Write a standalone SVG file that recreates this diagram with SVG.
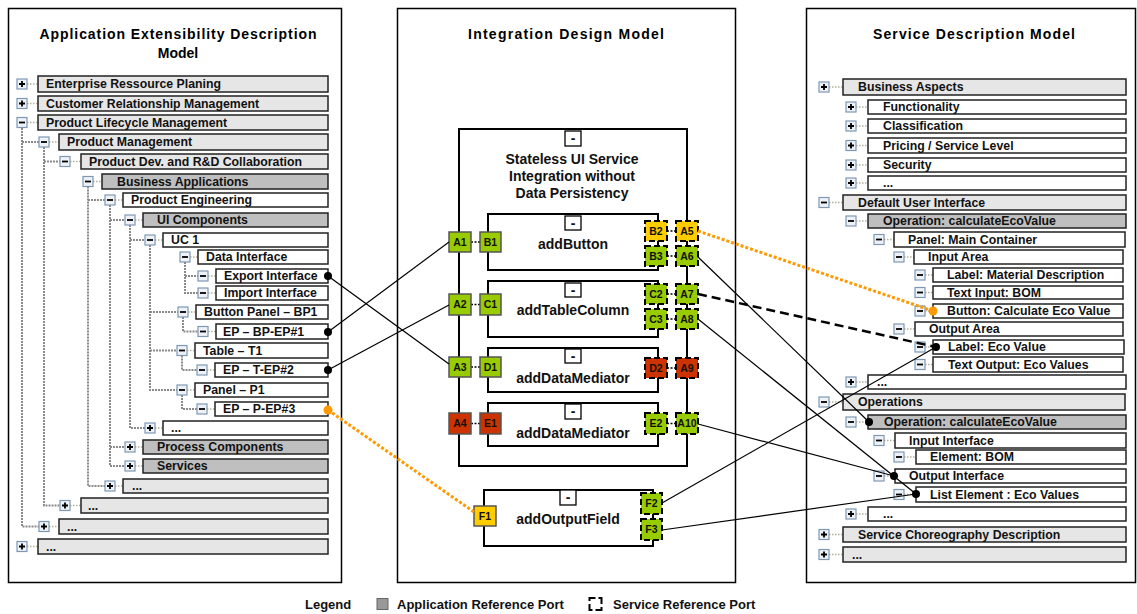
<svg xmlns="http://www.w3.org/2000/svg" width="1137" height="614" viewBox="0 0 1137 614">
<style>
.panel{fill:#fff;stroke:#000;stroke-width:1.5}
.title{font-family:"Liberation Sans",Arial,sans-serif;font-weight:bold;font-size:14px;text-anchor:middle;fill:#000}
.t{font-family:"Liberation Sans",Arial,sans-serif;font-weight:bold;font-size:12.3px;fill:#111}
.lg{fill:#e6e6e6;stroke:#222;stroke-width:1.5}
.dg{fill:#bfbfbf;stroke:#222;stroke-width:1.5}
.wh{fill:#fff;stroke:#222;stroke-width:1.5}
.ic{fill:#eef2f7;stroke:#7d98b3;stroke-width:1.2}
.sg{stroke:#000;stroke-width:1.8}
.vl{fill:none;stroke:#8a8a8a;stroke-width:2;stroke-dasharray:2 1}
.hl{fill:none;stroke:#b5b09a;stroke-width:1.3;stroke-dasharray:1.5 1.5}
.box{fill:#fff;stroke:#000;stroke-width:2}
.mb{fill:#fff;stroke:#000;stroke-width:1.3}
.mt{font-family:"Liberation Sans",Arial,sans-serif;font-weight:bold;font-size:14px;text-anchor:middle;fill:#111}
.pl{font-family:"Liberation Sans",Arial,sans-serif;font-weight:bold;font-size:10.5px;text-anchor:middle;fill:#111}
.g{fill:#99cc00}.o{fill:#ffcc00}.r{fill:#cc3300}
.ps{stroke:#555;stroke-width:1.5}
.pd{stroke:#000;stroke-width:2;stroke-dasharray:6 3}
.pc{stroke:#000;stroke-width:1.5;stroke-dasharray:2 1.5}
.ln{fill:none;stroke:#000;stroke-width:1.2}
.or{fill:none;stroke:#ff9900;stroke-width:3;stroke-dasharray:3 2}
.da{fill:none;stroke:#000;stroke-width:2.5;stroke-dasharray:9 5}
.dot{fill:#000}
.odot{fill:#ff9900}
.leg{font-family:"Liberation Sans",Arial,sans-serif;font-weight:bold;font-size:13px;fill:#111}
</style>

<!-- Panels -->
<g id="panel-left">
<rect class="panel" x="8.5" y="8.5" width="333" height="574"/>
<text class="title" x="178" y="39" textLength="277">Application Extensibility Description</text>
<text class="title" x="178" y="58">Model</text>
</g>
<g id="panel-middle">
<rect class="panel" x="397.5" y="8.5" width="338" height="574"/>
<text class="title" x="566" y="39" textLength="196">Integration Design Model</text>
</g>
<g id="panel-right">
<rect class="panel" x="806.5" y="8.5" width="329" height="574"/>
<text class="title" x="974" y="39" textLength="202">Service Description Model</text>
</g>

<!-- Left tree lines -->
<g id="left-tree-lines">
<path class="vl" d="M22 128V526.5H39M22 142H39"/>
<path class="vl" d="M44 147V505.5H60M44 161.5H60"/>
<path class="vl" d="M88 186.5V486H105M88 200H105"/>
<path class="vl" d="M110 205V466H125M110 220H125M110 447H125"/>
<path class="vl" d="M130 225V428H145M130 240H145"/>
<path class="vl" d="M150 245V390H177M150 312H178M150 350.5H177"/>
<path class="vl" d="M185 262V293H198M185 276H198"/>
<path class="vl" d="M183 317V331.5H198"/>
<path class="vl" d="M182 355.5V370H197"/>
<path class="vl" d="M182 395V409H197"/>
</g>

<!-- Left tree nodes -->
<g id="l-erp"><path class="hl" d="M27 84H38"/><rect class="lg" x="38" y="76" width="290" height="16"/><rect class="ic" x="17" y="79" width="10" height="10"/><path class="sg" d="M19 84H25M22 81V87"/><text class="t" x="46" y="88.3">Enterprise Ressource Planing</text></g>
<g id="l-crm"><path class="hl" d="M27 103.5H38"/><rect class="lg" x="38" y="96" width="290" height="15"/><rect class="ic" x="17" y="98.5" width="10" height="10"/><path class="sg" d="M19 103.5H25M22 100.5V106.5"/><text class="t" x="46" y="107.8">Customer Relationship Management</text></g>
<g id="l-plm"><path class="hl" d="M27 122.5H38"/><rect class="lg" x="38" y="115" width="290" height="15"/><rect class="ic" x="17" y="117.5" width="10" height="10"/><path class="sg" d="M19 122.5H25"/><text class="t" x="46" y="126.8">Product Lifecycle Management</text></g>
<g id="l-pm"><path class="hl" d="M49 142H59"/><rect class="lg" x="59" y="134" width="269" height="16"/><rect class="ic" x="39" y="137" width="10" height="10"/><path class="sg" d="M41 142H47"/><text class="t" x="67" y="146.3">Product Management</text></g>
<g id="l-pdev"><path class="hl" d="M70 161.5H81"/><rect class="lg" x="81" y="154" width="247" height="15"/><rect class="ic" x="60" y="156.5" width="10" height="10"/><path class="sg" d="M62 161.5H68"/><text class="t" x="89" y="165.8">Product Dev. and R&amp;D Collaboration</text></g>
<g id="l-ba"><path class="hl" d="M93 181.5H102"/><rect class="dg" x="102" y="174" width="226" height="15"/><rect class="ic" x="83" y="176.5" width="10" height="10"/><path class="sg" d="M85 181.5H91"/><text class="t" x="117" y="185.8">Business Applications</text></g>
<g id="l-pe"><path class="hl" d="M115 200H123"/><rect class="wh" x="123" y="193" width="205" height="14"/><rect class="ic" x="105" y="195" width="10" height="10"/><path class="sg" d="M107 200H113"/><text class="t" x="131" y="204.3">Product Engineering</text></g>
<g id="l-uic"><path class="hl" d="M135 220H143"/><rect class="dg" x="143" y="213" width="185" height="14"/><rect class="ic" x="125" y="215" width="10" height="10"/><path class="sg" d="M127 220H133"/><text class="t" x="157" y="224.3">UI Components</text></g>
<g id="l-uc1"><path class="hl" d="M155 240H163"/><rect class="wh" x="163" y="233" width="165" height="14"/><rect class="ic" x="145" y="235" width="10" height="10"/><path class="sg" d="M147 240H153"/><text class="t" x="171" y="244.3">UC 1</text></g>
<g id="l-di"><path class="hl" d="M190 257H198"/><rect class="wh" x="198" y="250" width="130" height="14"/><rect class="ic" x="180" y="252" width="10" height="10"/><path class="sg" d="M182 257H188"/><text class="t" x="206" y="261.3">Data Interface</text></g>
<g id="l-exp"><path class="hl" d="M208 276H216"/><rect class="wh" x="216" y="269" width="112" height="14"/><rect class="ic" x="198" y="271" width="10" height="10"/><path class="sg" d="M200 276H206"/><text class="t" x="224" y="280.3">Export Interface</text></g>
<g id="l-imp"><path class="hl" d="M208 293H216"/><rect class="wh" x="216" y="286" width="112" height="14"/><rect class="ic" x="198" y="288" width="10" height="10"/><path class="sg" d="M200 293H206"/><text class="t" x="224" y="297.3">Import Interface</text></g>
<g id="l-bp"><path class="hl" d="M188 312H196"/><rect class="wh" x="196" y="305" width="132" height="14"/><rect class="ic" x="178" y="307" width="10" height="10"/><path class="sg" d="M180 312H186"/><text class="t" x="204" y="316.3">Button Panel – BP1</text></g>
<g id="l-ep1"><path class="hl" d="M208 331.5H216"/><rect class="wh" x="216" y="324" width="112" height="15"/><rect class="ic" x="198" y="326.5" width="10" height="10"/><path class="sg" d="M200 331.5H206"/><text class="t" x="223" y="335.8">EP – BP-EP#1</text></g>
<g id="l-t1"><path class="hl" d="M187 350.5H195"/><rect class="wh" x="195" y="343" width="133" height="15"/><rect class="ic" x="177" y="345.5" width="10" height="10"/><path class="sg" d="M179 350.5H185"/><text class="t" x="203" y="354.8">Table – T1</text></g>
<g id="l-ep2"><path class="hl" d="M207 370H215"/><rect class="wh" x="215" y="363" width="113" height="14"/><rect class="ic" x="197" y="365" width="10" height="10"/><path class="sg" d="M199 370H205"/><text class="t" x="223" y="374.3">EP – T-EP#2</text></g>
<g id="l-p1"><path class="hl" d="M187 390H195"/><rect class="wh" x="195" y="383" width="133" height="14"/><rect class="ic" x="177" y="385" width="10" height="10"/><path class="sg" d="M179 390H185"/><text class="t" x="203" y="394.3">Panel – P1</text></g>
<g id="l-ep3"><path class="hl" d="M207 409H215"/><rect class="wh" x="215" y="402" width="113" height="14"/><rect class="ic" x="197" y="404" width="10" height="10"/><path class="sg" d="M199 409H205"/><text class="t" x="223" y="413.3">EP – P-EP#3</text></g>
<g id="l-more1"><path class="hl" d="M155 428H163"/><rect class="wh" x="163" y="421" width="165" height="14"/><rect class="ic" x="145" y="423" width="10" height="10"/><path class="sg" d="M147 428H153M150 425V431"/><text class="t" x="171" y="432.3">...</text></g>
<g id="l-proc"><path class="hl" d="M135 447H143"/><rect class="dg" x="143" y="440" width="185" height="14"/><rect class="ic" x="125" y="442" width="10" height="10"/><path class="sg" d="M127 447H133M130 444V450"/><text class="t" x="157" y="451.3">Process Components</text></g>
<g id="l-serv"><path class="hl" d="M135 466H143"/><rect class="dg" x="143" y="459" width="185" height="14"/><rect class="ic" x="125" y="461" width="10" height="10"/><path class="sg" d="M127 466H133M130 463V469"/><text class="t" x="157" y="470.3">Services</text></g>
<g id="l-more2"><path class="hl" d="M115 486H123"/><rect class="lg" x="123" y="479" width="205" height="14"/><rect class="ic" x="105" y="481" width="10" height="10"/><path class="sg" d="M107 486H113M110 483V489"/><text class="t" x="132" y="490.3">...</text></g>
<g id="l-more3"><path class="hl" d="M70 505.5H81"/><rect class="lg" x="81" y="498" width="247" height="15"/><rect class="ic" x="60" y="500.5" width="10" height="10"/><path class="sg" d="M62 505.5H68M65 502.5V508.5"/><text class="t" x="88" y="509.8">...</text></g>
<g id="l-more4"><path class="hl" d="M49 526.5H59"/><rect class="lg" x="59" y="519" width="269" height="15"/><rect class="ic" x="39" y="521.5" width="10" height="10"/><path class="sg" d="M41 526.5H47M44 523.5V529.5"/><text class="t" x="67" y="530.8">...</text></g>
<g id="l-more5"><path class="hl" d="M27 546.5H38"/><rect class="lg" x="38" y="539" width="290" height="15"/><rect class="ic" x="17" y="541.5" width="10" height="10"/><path class="sg" d="M19 546.5H25M22 543.5V549.5"/><text class="t" x="46" y="550.8">...</text></g>

<!-- Right tree nodes -->
<g id="r-ba"><path class="hl" d="M829 87H843"/><rect class="lg" x="843" y="79" width="283" height="16"/><rect class="ic" x="819" y="82" width="10" height="10"/><path class="sg" d="M821 87H827M824 84V90"/><text class="t" x="858" y="91.3">Business Aspects</text></g>
<g id="r-func"><path class="hl" d="M856 107H868"/><rect class="wh" x="868" y="100" width="258" height="14"/><rect class="ic" x="846" y="102" width="10" height="10"/><path class="sg" d="M848 107H854M851 104V110"/><text class="t" x="883" y="111.3">Functionality</text></g>
<g id="r-class"><path class="hl" d="M856 126H868"/><rect class="wh" x="868" y="119" width="258" height="14"/><rect class="ic" x="846" y="121" width="10" height="10"/><path class="sg" d="M848 126H854M851 123V129"/><text class="t" x="883" y="130.3">Classification</text></g>
<g id="r-price"><path class="hl" d="M856 145.5H868"/><rect class="wh" x="868" y="138" width="258" height="15"/><rect class="ic" x="846" y="140.5" width="10" height="10"/><path class="sg" d="M848 145.5H854M851 142.5V148.5"/><text class="t" x="883" y="149.8">Pricing / Service Level</text></g>
<g id="r-sec"><path class="hl" d="M856 165H868"/><rect class="wh" x="868" y="158" width="258" height="14"/><rect class="ic" x="846" y="160" width="10" height="10"/><path class="sg" d="M848 165H854M851 162V168"/><text class="t" x="883" y="169.3">Security</text></g>
<g id="r-more1"><path class="hl" d="M856 183H868"/><rect class="wh" x="868" y="176" width="258" height="14"/><rect class="ic" x="846" y="178" width="10" height="10"/><path class="sg" d="M848 183H854M851 180V186"/><text class="t" x="883" y="187.3">...</text></g>
<g id="r-dui"><path class="hl" d="M829 202.5H843"/><rect class="lg" x="843" y="195" width="283" height="15"/><rect class="ic" x="819" y="197.5" width="10" height="10"/><path class="sg" d="M821 202.5H827"/><text class="t" x="858" y="206.8">Default User Interface</text></g>
<g id="r-op1"><path class="hl" d="M856 221H868"/><rect class="dg" x="868" y="214" width="258" height="14"/><rect class="ic" x="846" y="216" width="10" height="10"/><path class="sg" d="M848 221H854"/><text class="t" x="883" y="225.3">Operation: calculateEcoValue</text></g>
<g id="r-panel"><path class="hl" d="M884 239.5H894"/><rect class="wh" x="894" y="232" width="231" height="15"/><rect class="ic" x="874" y="234.5" width="10" height="10"/><path class="sg" d="M876 239.5H882"/><text class="t" x="908" y="243.8">Panel: Main Container</text></g>
<g id="r-input"><path class="hl" d="M904 257H914"/><rect class="wh" x="914" y="250" width="209" height="14"/><rect class="ic" x="894" y="252" width="10" height="10"/><path class="sg" d="M896 257H902"/><text class="t" x="928" y="261.3">Input Area</text></g>
<g id="r-lmd"><path class="hl" d="M925 275H933"/><rect class="wh" x="933" y="268" width="190" height="14"/><rect class="ic" x="915" y="270" width="10" height="10"/><path class="sg" d="M917 275H923"/><text class="t" x="947" y="279.3">Label: Material Description</text></g>
<g id="r-tib"><path class="hl" d="M925 292.5H933"/><rect class="wh" x="933" y="286" width="190" height="13"/><rect class="ic" x="915" y="287.5" width="10" height="10"/><path class="sg" d="M917 292.5H923"/><text class="t" x="947" y="296.8">Text Input: BOM</text></g>
<g id="r-btn"><path class="hl" d="M925 311H933"/><rect class="wh" x="933" y="304" width="190" height="14"/><rect class="ic" x="915" y="306" width="10" height="10"/><path class="sg" d="M917 311H923"/><text class="t" x="947" y="315.3">Button: Calculate Eco Value</text></g>
<g id="r-out"><path class="hl" d="M904 329H915"/><rect class="wh" x="915" y="322" width="208" height="14"/><rect class="ic" x="894" y="324" width="10" height="10"/><path class="sg" d="M896 329H902"/><text class="t" x="929" y="333.3">Output Area</text></g>
<g id="r-lev"><path class="hl" d="M925 347H933"/><rect class="wh" x="933" y="340" width="191" height="14"/><rect class="ic" x="915" y="342" width="10" height="10"/><path class="sg" d="M917 347H923"/><text class="t" x="948" y="351.3">Label: Eco Value</text></g>
<g id="r-tov"><path class="hl" d="M925 364.5H933"/><rect class="wh" x="933" y="357" width="190" height="15"/><rect class="ic" x="915" y="359.5" width="10" height="10"/><path class="sg" d="M917 364.5H923"/><text class="t" x="948" y="368.8">Text Output: Eco Values</text></g>
<g id="r-more2"><path class="hl" d="M856 382H868"/><rect class="wh" x="868" y="375" width="258" height="14"/><rect class="ic" x="846" y="377" width="10" height="10"/><path class="sg" d="M848 382H854M851 379V385"/><text class="t" x="877" y="386.3">...</text></g>
<g id="r-ops"><path class="hl" d="M829 402H843"/><rect class="lg" x="843" y="394" width="282" height="16"/><rect class="ic" x="819" y="397" width="10" height="10"/><path class="sg" d="M821 402H827"/><text class="t" x="858" y="406.3">Operations</text></g>
<g id="r-op2"><path class="hl" d="M856 422H868"/><rect class="dg" x="868" y="415" width="258" height="14"/><rect class="ic" x="846" y="417" width="10" height="10"/><path class="sg" d="M848 422H854"/><text class="t" x="884" y="426.3">Operation: calculateEcoValue</text></g>
<g id="r-ii"><path class="hl" d="M884 440.5H895"/><rect class="wh" x="895" y="433" width="231" height="15"/><rect class="ic" x="874" y="435.5" width="10" height="10"/><path class="sg" d="M876 440.5H882"/><text class="t" x="909" y="444.8">Input Interface</text></g>
<g id="r-eb"><path class="hl" d="M904 457H916"/><rect class="wh" x="916" y="450" width="210" height="14"/><rect class="ic" x="894" y="452" width="10" height="10"/><path class="sg" d="M896 457H902"/><text class="t" x="930" y="461.3">Element: BOM</text></g>
<g id="r-oi"><path class="hl" d="M884 476H895"/><rect class="wh" x="895" y="469" width="231" height="14"/><rect class="ic" x="874" y="471" width="10" height="10"/><path class="sg" d="M876 476H882"/><text class="t" x="909" y="480.3">Output Interface</text></g>
<g id="r-le"><path class="hl" d="M904 494.5H916"/><rect class="wh" x="916" y="487" width="210" height="15"/><rect class="ic" x="894" y="489.5" width="10" height="10"/><path class="sg" d="M896 494.5H902"/><text class="t" x="930" y="498.8">List Element : Eco Values</text></g>
<g id="r-more3"><path class="hl" d="M856 514H868"/><rect class="wh" x="868" y="507" width="258" height="14"/><rect class="ic" x="846" y="509" width="10" height="10"/><path class="sg" d="M848 514H854M851 511V517"/><text class="t" x="883" y="518.3">...</text></g>
<g id="r-scd"><path class="hl" d="M829 534.5H843"/><rect class="lg" x="843" y="527" width="283" height="15"/><rect class="ic" x="819" y="529.5" width="10" height="10"/><path class="sg" d="M821 534.5H827M824 531.5V537.5"/><text class="t" x="858" y="538.8">Service Choreography Description</text></g>
<g id="r-more4"><path class="hl" d="M829 554.5H843"/><rect class="lg" x="843" y="547" width="283" height="15"/><rect class="ic" x="819" y="549.5" width="10" height="10"/><path class="sg" d="M821 554.5H827M824 551.5V557.5"/><text class="t" x="852" y="558.8">...</text></g>

<!-- Middle components -->
<g id="m-container">
<rect class="box" x="459" y="129" width="228" height="337"/>
<rect class="mb" x="565" y="131" width="16" height="15"/><text class="mt" x="573" y="143">-</text>
<text class="mt" x="572" y="164">Stateless UI Service</text>
<text class="mt" x="572" y="181">Integration without</text>
<text class="mt" x="572" y="198">Data Persistency</text>
</g>
<g id="m-addButton">
<rect class="box" x="488" y="214" width="170" height="56"/>
<rect class="mb" x="565" y="216" width="16" height="14"/><text class="mt" x="573" y="227.5">-</text>
<text class="mt" x="573" y="249">addButton</text>
</g>
<g id="m-addTableColumn">
<rect class="box" x="488" y="281" width="170" height="56"/>
<rect class="mb" x="565" y="283" width="16" height="14"/><text class="mt" x="573" y="294.5">-</text>
<text class="mt" x="573" y="315">addTableColumn</text>
</g>
<g id="m-addDataMediator1">
<rect class="box" x="488" y="348" width="170" height="44"/>
<rect class="mb" x="565" y="349" width="16" height="14"/><text class="mt" x="573" y="360.5">-</text>
<text class="mt" x="573" y="383">addDataMediator</text>
</g>
<g id="m-addDataMediator2">
<rect class="box" x="488" y="403" width="170" height="43"/>
<rect class="mb" x="565" y="404" width="16" height="15"/><text class="mt" x="573" y="416">-</text>
<text class="mt" x="573" y="438">addDataMediator</text>
</g>
<g id="m-addOutputField">
<rect class="box" x="484" y="490" width="169" height="56"/>
<rect class="mb" x="560" y="490" width="16" height="15"/><text class="mt" x="568" y="502">-</text>
<text class="mt" x="568" y="524">addOutputField</text>
</g>

<!-- Port links inside -->
<g id="port-links">
<path class="pc" d="M471 242H480M471 304.5H480M471 367H480M471 423.5H480M667 231H676M667 256H676M667 294H676M667 319H676M667 368H676M667 423.5H676"/>
</g>

<!-- Ports -->
<g id="ports">
<g id="p-A1"><rect class="g ps" x="449" y="232" width="22" height="20"/><text class="pl" x="460" y="245.8">A1</text></g>
<g id="p-B1"><rect class="g ps" x="480" y="232" width="21" height="20"/><text class="pl" x="490.5" y="245.8">B1</text></g>
<g id="p-A2"><rect class="g ps" x="449" y="294" width="22" height="21"/><text class="pl" x="460" y="308.3">A2</text></g>
<g id="p-C1"><rect class="g ps" x="480" y="294" width="21" height="21"/><text class="pl" x="490.5" y="308.3">C1</text></g>
<g id="p-A3"><rect class="g ps" x="449" y="357" width="22" height="20"/><text class="pl" x="460" y="370.8">A3</text></g>
<g id="p-D1"><rect class="g ps" x="480" y="357" width="21" height="20"/><text class="pl" x="490.5" y="370.8">D1</text></g>
<g id="p-A4"><rect class="r ps" x="449" y="413" width="22" height="21"/><text class="pl" x="460" y="427.3">A4</text></g>
<g id="p-E1"><rect class="r ps" x="480" y="413" width="21" height="21"/><text class="pl" x="490.5" y="427.3">E1</text></g>
<g id="p-B2"><rect class="o pd" x="645" y="221" width="22" height="20"/><text class="pl" x="656" y="234.8">B2</text></g>
<g id="p-A5"><rect class="o pd" x="676" y="221" width="22" height="20"/><text class="pl" x="687" y="234.8">A5</text></g>
<g id="p-B3"><rect class="g pd" x="645" y="246" width="22" height="20"/><text class="pl" x="656" y="259.8">B3</text></g>
<g id="p-A6"><rect class="g pd" x="676" y="246" width="22" height="20"/><text class="pl" x="687" y="259.8">A6</text></g>
<g id="p-C2"><rect class="g pd" x="645" y="284" width="22" height="20"/><text class="pl" x="656" y="297.8">C2</text></g>
<g id="p-A7"><rect class="g pd" x="676" y="284" width="22" height="20"/><text class="pl" x="687" y="297.8">A7</text></g>
<g id="p-C3"><rect class="g pd" x="645" y="309" width="22" height="20"/><text class="pl" x="656" y="322.8">C3</text></g>
<g id="p-A8"><rect class="g pd" x="676" y="309" width="22" height="20"/><text class="pl" x="687" y="322.8">A8</text></g>
<g id="p-D2"><rect class="r pd" x="645" y="358" width="22" height="20"/><text class="pl" x="656" y="371.8">D2</text></g>
<g id="p-A9"><rect class="r pd" x="676" y="358" width="22" height="20"/><text class="pl" x="687" y="371.8">A9</text></g>
<g id="p-E2"><rect class="g pd" x="645" y="413" width="22" height="21"/><text class="pl" x="656" y="427.3">E2</text></g>
<g id="p-A10"><rect class="g pd" x="676" y="413" width="22" height="21"/><text class="pl" x="687" y="427.3">A10</text></g>
<g id="p-F1"><rect class="o ps" x="474" y="506" width="22" height="20"/><text class="pl" x="485" y="519.8">F1</text></g>
<g id="p-F2"><rect class="g pd" x="641" y="493" width="21" height="21"/><text class="pl" x="651.5" y="507.3">F2</text></g>
<g id="p-F3"><rect class="g pd" x="641" y="519" width="21" height="21"/><text class="pl" x="651.5" y="533.3">F3</text></g>
</g>

<!-- Connectors -->
<g id="connectors">
<path class="ln" d="M328 276L449 364"/>
<path class="ln" d="M328 332L449 242"/>
<path class="ln" d="M328 370L449 305"/>
<path class="or" d="M328 410L474 512"/>
<path class="or" d="M698 231L933 311"/>
<path class="ln" d="M698 257L869 422"/>
<path class="da" d="M698 294L936 347"/>
<path class="ln" d="M698 319L916 494"/>
<path class="ln" d="M698 424L894 476"/>
<path class="ln" d="M662 503L936 347"/>
<path class="ln" d="M662 530L916 494"/>
<circle class="dot" cx="328" cy="276" r="4"/>
<circle class="dot" cx="328" cy="332" r="4"/>
<circle class="dot" cx="328" cy="370" r="4"/>
<circle class="odot" cx="328" cy="410" r="4.5"/>
<circle class="odot" cx="933" cy="311" r="4.5"/>
<circle class="dot" cx="936" cy="347" r="4"/>
<circle class="dot" cx="869" cy="422" r="4"/>
<circle class="dot" cx="894" cy="476" r="4"/>
<circle class="dot" cx="916" cy="494" r="4"/>
</g>

<!-- Legend -->
<g id="legend">
<text class="leg" x="305" y="609">Legend</text>
<rect x="377" y="598.5" width="11" height="11" fill="#999" stroke="#666" stroke-width="1"/>
<text class="leg" x="397" y="609">Application Reference Port</text>
<rect x="589.5" y="598" width="12" height="12" fill="#fff" stroke="#000" stroke-width="2" stroke-dasharray="9 3" stroke-dashoffset="3"/>
<text class="leg" x="613" y="609">Service Reference Port</text>
</g>
</svg>
